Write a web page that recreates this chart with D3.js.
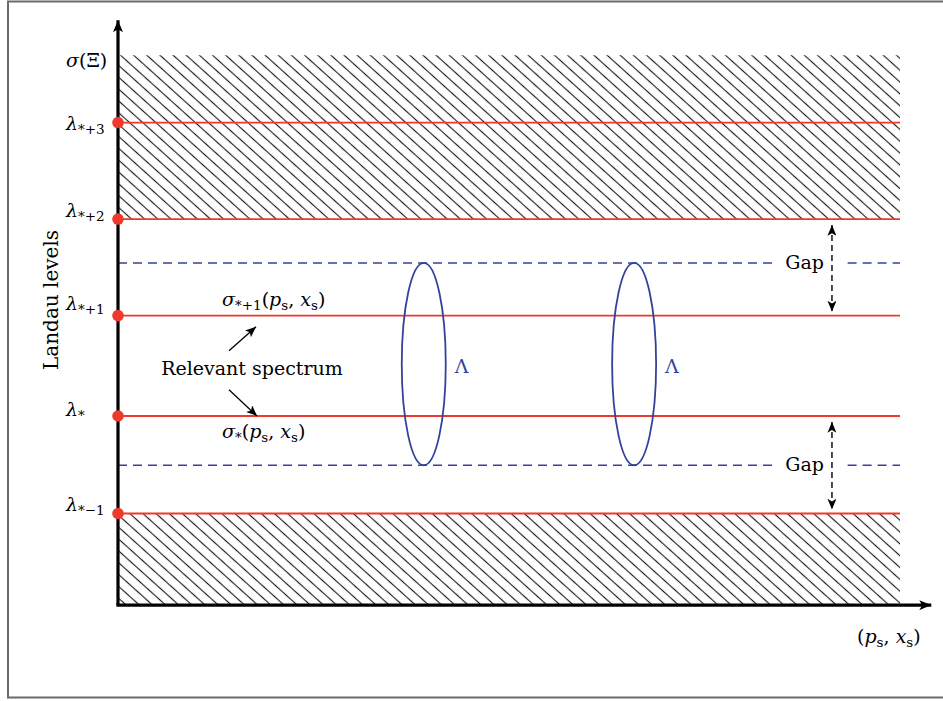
<!DOCTYPE html>
<html>
<head>
<meta charset="utf-8">
<script src="https://cdn.jsdelivr.net/npm/d3@7"></script>
<style>
  body { margin: 0; background: #fff; }
  svg text { font-family: 'DejaVu Serif', 'Liberation Serif', serif; }
</style>
</head>
<body>
<svg id="chart"></svg>
<script>
const width = 943
const height = 701

// Landau levels (energy units, lambda_* = 0)
const levelNames = ['*-1', '*', '*+1', '*+2', '*+3']
const levelValues = [-1.0, 0.0, 1.03, 2.02, 3.01]
// spectrum sigma(Xi) top, hatched bands [from, to]
const sigmaTop = 3.7
const hatchBands = [[2.02, 3.7], [-1.94, -1.0]]
// gap edges (dashed blue lines)
const gapEdges = [-0.505, 1.57]
// Lambda loops along (p_s, x_s)
const loopPositions = [0.391, 0.66]
const gapArrowX = 0.913
const xMax = 1.0
const yMin = -1.94
const yMax = 4.06

const svg = d3.select('#chart').attr('width', width).attr('height', height)

const x = d3.scaleLinear().domain([0, xMax]).range([118, 900])
const y = d3.scaleLinear().domain([0, 1]).range([416, 318.5])

const red = '#ee3a2c'
const blue = '#34439a'

// frame
svg.append('rect')
  .attr('x', 8).attr('y', 1.5)
  .attr('width', 960).attr('height', 696)
  .attr('fill', 'none').attr('stroke', '#6b6b6b').attr('stroke-width', 2)

/// defs: hatch + arrows ////////////////////////////////
const defs = svg.append('defs')
defs.append('pattern')
  .attr('id', 'hatch')
  .attr('patternUnits', 'userSpaceOnUse')
  .attr('width', 20).attr('height', 8.8)
  .attr('patternTransform', 'rotate(42)')
  .append('line')
  .attr('x1', 0).attr('x2', 20).attr('y1', 4.4).attr('y2', 4.4)
  .attr('stroke', '#1e1e1e').attr('stroke-width', 1.15)

function marker(id, size) {
  defs.append('marker')
    .attr('id', id)
    .attr('viewBox', '0 -5 12 10')
    .attr('refX', 12).attr('refY', 0)
    .attr('markerUnits', 'userSpaceOnUse')
    .attr('markerWidth', size * 1.2).attr('markerHeight', size)
    .attr('orient', 'auto-start-reverse')
    .append('path')
    .attr('d', 'M0,-5L12,0L0,5L3,0Z')
    .attr('fill', '#000')
}
marker('axisArrow', 10)
marker('smallArrow', 9)

/// hatched bands ////////////////////////////////
svg.append('g')
  .selectAll('rect')
  .data(hatchBands)
  .enter()
  .append('rect')
  .attr('x', x(0))
  .attr('width', x(xMax) - x(0))
  .attr('y', d => y(d[1]))
  .attr('height', d => y(d[0]) - y(d[1]))
  .attr('fill', 'url(#hatch)')

/// dashed gap edges (broken around the Gap label) ////////
gapEdges.forEach(v => {
  [[0, 0.839], [0.933, xMax]].forEach(seg => {
    svg.append('line')
      .attr('x1', x(seg[0])).attr('x2', x(seg[1]))
      .attr('y1', y(v)).attr('y2', y(v))
      .attr('stroke', blue).attr('stroke-width', 1.6)
      .attr('stroke-dasharray', '9,6')
  })
})

/// red Landau levels ////////////////////////////////
svg.append('g')
  .selectAll('line')
  .data(levelValues)
  .enter()
  .append('line')
  .attr('x1', x(0)).attr('x2', x(xMax))
  .attr('y1', d => y(d)).attr('y2', d => y(d))
  .attr('stroke', red).attr('stroke-width', 1.8)

/// Lambda loops ////////////////////////////////
svg.append('g')
  .selectAll('ellipse')
  .data(loopPositions)
  .enter()
  .append('ellipse')
  .attr('cx', d => x(d))
  .attr('cy', (y(gapEdges[0]) + y(gapEdges[1])) / 2)
  .attr('rx', 22)
  .attr('ry', (y(gapEdges[0]) - y(gapEdges[1])) / 2)
  .attr('fill', 'none').attr('stroke', blue).attr('stroke-width', 1.8)

svg.append('g')
  .selectAll('text')
  .data(loopPositions)
  .enter()
  .append('text')
  .attr('x', d => x(d) + 31)
  .attr('y', (y(gapEdges[0]) + y(gapEdges[1])) / 2 + 9)
  .attr('fill', blue)
  .attr('font-size', 19)
  .text('Λ')

/// axes ////////////////////////////////
svg.append('line')
  .attr('x1', x(0)).attr('x2', x(0))
  .attr('y1', y(yMin)).attr('y2', y(yMax))
  .attr('stroke', '#000').attr('stroke-width', 3.2)
  .attr('marker-end', 'url(#axisArrow)')
svg.append('line')
  .attr('x1', x(0) - 1.6).attr('x2', x(1.04))
  .attr('y1', y(yMin)).attr('y2', y(yMin))
  .attr('stroke', '#000').attr('stroke-width', 3.2)
  .attr('marker-end', 'url(#axisArrow)')

// level dots
svg.append('g')
  .selectAll('circle')
  .data(levelValues)
  .enter()
  .append('circle')
  .attr('cx', x(0)).attr('cy', d => y(d))
  .attr('r', 5.8).attr('fill', red)

/// labels ////////////////////////////////
const labelDy = [-3, 0, -6, -2, 7]
const labels = svg.append('g').attr('font-size', 19)
levelNames.forEach((name, i) => {
  const t = labels.append('text')
    .attr('x', 66).attr('y', y(levelValues[i]) + labelDy[i])
  t.append('tspan').attr('font-style', 'italic').text('λ')
  t.append('tspan').attr('font-size', 13.5).attr('dy', 4).text(name.replace('-', '−'))
})
const sig = labels.append('text').attr('x', 66).attr('y', y(sigmaTop) + 12)
sig.append('tspan').attr('font-style', 'italic').text('σ')
sig.append('tspan').text('(Ξ)')

svg.append('text')
  .attr('transform', `translate(58,${y(1.19)}) rotate(-90)`)
  .attr('text-anchor', 'middle')
  .attr('font-size', 20)
  .text('Landau levels')

function pairLabel(g, px, py, sub) {
  const t = g.append('text').attr('x', px).attr('y', py)
  t.append('tspan').attr('font-style', 'italic').text('σ')
  t.append('tspan').attr('font-size', 13.5).attr('dy', 4).text(sub)
  t.append('tspan').attr('dy', -4).text('(')
  t.append('tspan').attr('font-style', 'italic').text('p')
  t.append('tspan').attr('font-size', 13.5).attr('dy', 4).text('s')
  t.append('tspan').attr('dy', -4).text(', ')
  t.append('tspan').attr('font-style', 'italic').text('x')
  t.append('tspan').attr('font-size', 13.5).attr('dy', 4).text('s')
  t.append('tspan').attr('dy', -4).text(')')
  return t
}
pairLabel(labels, 222, y(levelValues[2]) - 10, '*+1')
pairLabel(labels, 222, y(levelValues[1]) + 22, '*')

labels.append('text')
  .attr('x', 252).attr('y', y(0.5) + 8)
  .attr('text-anchor', 'middle')
  .text('Relevant spectrum')

// pointers from "Relevant spectrum"
svg.append('line')
  .attr('x1', 229).attr('y1', y(0.67))
  .attr('x2', 256).attr('y2', y(0.915))
  .attr('stroke', '#000').attr('stroke-width', 1.3)
  .attr('marker-end', 'url(#smallArrow)')
svg.append('line')
  .attr('x1', 229).attr('y1', y(0.27))
  .attr('x2', 257).attr('y2', y(0.0))
  .attr('stroke', '#000').attr('stroke-width', 1.3)
  .attr('marker-end', 'url(#smallArrow)')

/// Gap arrows ////////////////////////////////
const gapPairs = [[gapEdges[1], levelValues[3], levelValues[2]], [gapEdges[0], levelValues[1], levelValues[0]]]
gapPairs.forEach(p => {
  svg.append('line')
    .attr('x1', x(gapArrowX)).attr('x2', x(gapArrowX))
    .attr('y1', y(p[1]) + 6).attr('y2', y(p[2]) - 4)
    .attr('stroke', '#000').attr('stroke-width', 1.4)
    .attr('stroke-dasharray', '6,4')
    .attr('marker-start', 'url(#smallArrow)')
    .attr('marker-end', 'url(#smallArrow)')
  labels.append('text')
    .attr('x', x(gapArrowX) - 8).attr('y', y(p[0]) + 6)
    .attr('text-anchor', 'end')
    .text('Gap')
})

/// x label ////////////////////////////////
const xl = labels.append('text').attr('x', 857).attr('y', 643)
xl.append('tspan').text('(')
xl.append('tspan').attr('font-style', 'italic').text('p')
xl.append('tspan').attr('font-size', 13.5).attr('dy', 4).text('s')
xl.append('tspan').attr('dy', -4).text(', ')
xl.append('tspan').attr('font-style', 'italic').text('x')
xl.append('tspan').attr('font-size', 13.5).attr('dy', 4).text('s')
xl.append('tspan').attr('dy', -4).text(')')
</script>
</body>
</html>
